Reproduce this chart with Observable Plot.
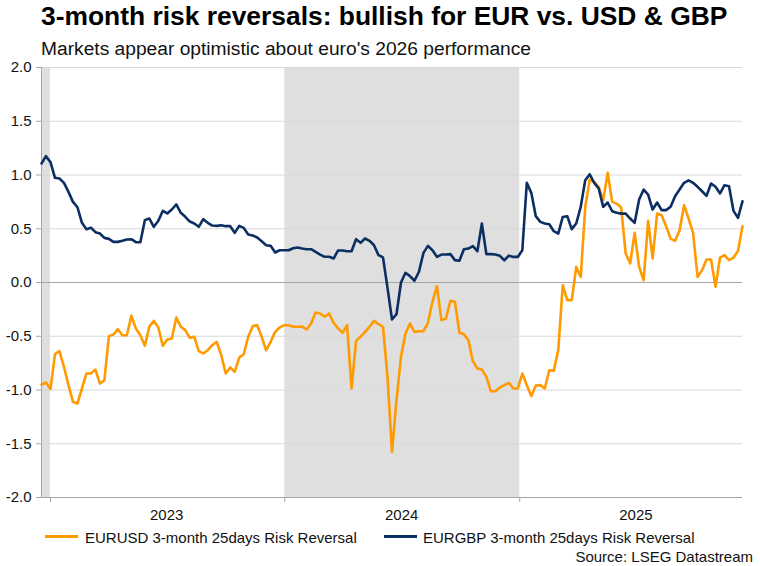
<!DOCTYPE html>
<html>
<head>
<meta charset="utf-8">
<script src="https://cdn.jsdelivr.net/npm/d3@7"></script>
<script src="https://cdn.jsdelivr.net/npm/@observablehq/plot@0.6"></script>
<style>
  html, body { margin: 0; padding: 0; background: #fff; }
  #wrap { position: relative; width: 760px; height: 566px; overflow: hidden; font-family: "Liberation Sans", Arial, sans-serif; color: #111; }
  #chart { position: absolute; left: 0; top: 55px; }
  .t { position: absolute; white-space: nowrap; line-height: 1; }
  #title { left: 41px; top: 3px; font-size: 26.4px; font-weight: bold; color: #000; }
  #subtitle { left: 41px; top: 39px; font-size: 19.2px; color: #111; }
  .leg { position: absolute; top: 530px; font-size: 15px; line-height: 1; white-space: nowrap; color: #111; }
  .sw { position: absolute; height: 3px; }
  #source { right: 7px; top: 549px; font-size: 15px; color: #111; }
</style>
</head>
<body>
<div id="wrap">
  <div id="chart"></div>
  <div class="t" id="title">3-month risk reversals: bullish for EUR vs. USD &amp; GBP</div>
  <div class="t" id="subtitle">Markets appear optimistic about euro's 2026 performance</div>
  <div class="sw" style="left:45px; top:535px; width:33px; background:#ff9a00;"></div>
  <div class="leg" style="left:85px;">EURUSD 3-month 25days Risk Reversal</div>
  <div class="sw" style="left:384px; top:535px; width:33px; background:#0b2f62;"></div>
  <div class="leg" style="left:423px;">EURGBP 3-month 25days Risk Reversal</div>
  <div class="t" id="source">Source: LSEG Datastream</div>
</div>
<script>
// Weekly observations, Dec 18 2022 .. Dec 14 2025
const dates = d3.utcWeek.range(new Date(Date.UTC(2022, 11, 18)), new Date(Date.UTC(2025, 11, 15)));

const eurusd = [
  -0.95, -0.93, -0.99, -0.667, -0.639, -0.784, -0.955, -1.11, -1.126, -0.986,
  -0.847, -0.847, -0.81, -0.94, -0.909, -0.499, -0.484, -0.434, -0.49, -0.49,
  -0.31, -0.428, -0.49, -0.589, -0.412, -0.357, -0.419, -0.589, -0.53, -0.52,
  -0.326, -0.412, -0.443, -0.515, -0.505, -0.639, -0.66, -0.63, -0.583, -0.552,
  -0.676, -0.847, -0.79, -0.831, -0.698, -0.667, -0.505, -0.406, -0.397, -0.505,
  -0.63, -0.552, -0.459, -0.419, -0.397, -0.397, -0.412, -0.412, -0.41, -0.437,
  -0.381, -0.279, -0.288, -0.319, -0.288, -0.375, -0.428, -0.468, -0.397, -0.986,
  -0.543, -0.505, -0.459, -0.412, -0.357, -0.388, -0.412, -0.878, -1.575, -1.095,
  -0.691, -0.474, -0.381, -0.459, -0.453, -0.453, -0.375, -0.18, -0.034, -0.35,
  -0.335, -0.17, -0.18, -0.465, -0.481, -0.536, -0.732, -0.8, -0.81, -0.878,
  -1.011, -1.011, -0.977, -0.955, -0.933, -0.986, -0.986, -0.847, -0.955, -1.057,
  -0.958, -0.955, -0.986, -0.816, -0.82, -0.63, -0.025, -0.164, -0.164, 0.145,
  0.052, 0.70, 0.958, 0.936, 0.89, 0.766, 1.02, 0.75, 0.734, 0.697,
  0.27, 0.177, 0.462, 0.145, 0.021, 0.573, 0.223, 0.642, 0.626, 0.524,
  0.409, 0.387, 0.487, 0.719, 0.595, 0.462, 0.052, 0.115, 0.214, 0.214,
  -0.04, 0.232, 0.254, 0.207, 0.232, 0.294, 0.524
];

const eurgbp = [
  1.107, 1.175, 1.12, 0.974, 0.967, 0.927, 0.843, 0.75, 0.70, 0.555,
  0.496, 0.51, 0.468, 0.456, 0.415, 0.406, 0.378, 0.378, 0.388, 0.40,
  0.403, 0.375, 0.375, 0.58, 0.595, 0.518, 0.574, 0.667, 0.642, 0.679,
  0.726, 0.648, 0.611, 0.567, 0.549, 0.518, 0.589, 0.555, 0.53, 0.527,
  0.533, 0.524, 0.524, 0.462, 0.527, 0.508, 0.446, 0.437, 0.419, 0.384,
  0.347, 0.341, 0.279, 0.30, 0.30, 0.30, 0.319, 0.326, 0.316, 0.31,
  0.31, 0.285, 0.26, 0.239, 0.239, 0.223, 0.298, 0.298, 0.291, 0.291,
  0.403, 0.369, 0.409, 0.388, 0.347, 0.254, 0.233, -0.05, -0.344, -0.295,
  0.0, 0.09, 0.059, 0.016, 0.10, 0.276, 0.341, 0.30, 0.239, 0.26,
  0.26, 0.264, 0.208, 0.202, 0.31, 0.316, 0.338, 0.291, 0.549, 0.264,
  0.264, 0.26, 0.248, 0.207, 0.25, 0.238, 0.238, 0.30, 0.927, 0.834,
  0.617, 0.564, 0.549, 0.542, 0.477, 0.455, 0.61, 0.617, 0.496, 0.549,
  0.704, 0.951, 1.007, 0.927, 0.874, 0.704, 0.744, 0.663, 0.648, 0.641,
  0.641, 0.595, 0.555, 0.772, 0.865, 0.818, 0.679, 0.744, 0.673, 0.673,
  0.704, 0.803, 0.865, 0.927, 0.951, 0.927, 0.89, 0.849, 0.806, 0.921,
  0.89, 0.828, 0.905, 0.896, 0.666, 0.601, 0.756
];

const yearLabels = ["2023", "2024", "2025"];
const yTicks = [-2, -1.5, -1, -0.5, 0, 0.5, 1, 1.5, 2];
const shadeStarts = ["2022-12-18", "2024-01-01"];
const shadeEnds = ["2023-01-01", "2025-01-01"];

const xStart = new Date(Date.UTC(2022, 11, 18));
const xEnd = new Date(Date.UTC(2025, 11, 14));

const data = dates.map((d, i) => ({ date: d, eurusd: eurusd[i], eurgbp: eurgbp[i] }));
const shade = shadeStarts.map((s, i) => ({ start: new Date(s), end: new Date(shadeEnds[i]) }));
const yearStarts = yearLabels.map(y => new Date(Date.UTC(+y, 0, 1)));
const yearMids = yearLabels.map(y => new Date(Date.UTC(+y, 6, 1)));
const gridVals = yTicks.filter(v => v !== 0 && v !== -2);

const chart = Plot.plot({
  width: 760,
  height: 470,
  marginTop: 12,
  marginBottom: 28,
  marginLeft: 41,
  marginRight: 18,
  x: { type: "utc", domain: [xStart, xEnd] },
  y: { domain: [-2, 2] },
  style: { fontFamily: "'Liberation Sans', Arial, sans-serif", fontSize: "15px", color: "#111", background: "transparent" },
  marks: [
    Plot.rect(shade, { x1: "start", x2: "end", fill: "#dfdfdf" }),
    Plot.ruleY(gridVals, { stroke: "#d9d9d9", strokeWidth: 1 }),
    Plot.ruleY([0], { stroke: "#a6a6a6", strokeWidth: 1 }),
    Plot.ruleY([-2], { stroke: "#a6a6a6", strokeWidth: 1 }),
    Plot.ruleX([xStart], { stroke: "#a6a6a6", strokeWidth: 1 }),
    Plot.axisY(yTicks, { tickSize: 5, tickPadding: 5, tickFormat: d => d.toFixed(1), stroke: "#a6a6a6", fill: "#111", fontSize: 15 }),
    Plot.axisX(yearStarts, { tickSize: 5, tickFormat: () => "", stroke: "#a6a6a6" }),
    Plot.axisX(yearMids, { tickSize: 0, tickPadding: 12, tickFormat: d3.utcFormat("%Y"), fill: "#111", fontSize: 15 }),
    Plot.lineY(data, { x: "date", y: "eurusd", stroke: "#ff9a00", strokeWidth: 2.6 }),
    Plot.lineY(data, { x: "date", y: "eurgbp", stroke: "#0b2f62", strokeWidth: 2.6 })
  ]
});
document.getElementById("chart").appendChild(chart);
</script>
</body>
</html>
